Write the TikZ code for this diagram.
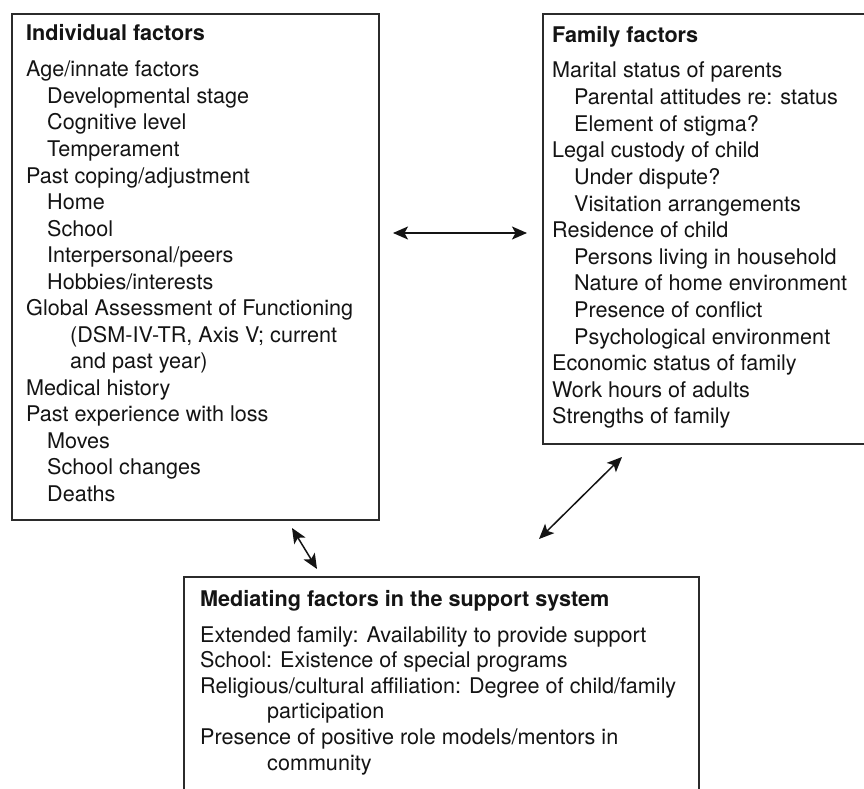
\documentclass[tikz,border=0pt]{standalone}
\usepackage{fontspec}
\setmainfont{TeX Gyre Heros}
\usetikzlibrary{arrows.meta}
\definecolor{ink}{HTML}{141414}
\definecolor{frame}{HTML}{2B2B2B}
\tikzset{
  factorbox/.style={draw=frame, line width=1.6pt, fill=white, inner sep=0pt, anchor=north west},
  entry/.style={anchor=base west, inner sep=0pt, text=ink, font=\fontsize{21.6}{26}\selectfont},
  heading/.style={entry, font=\fontsize{21.6}{26}\selectfont\bfseries},
  biarrow/.style={draw=ink, line width=1.5pt,
    {Stealth[length=15pt,width=13pt,inset=3.5pt]}-{Stealth[length=15pt,width=13pt,inset=3.5pt]}}
}
\begin{document}
\begin{tikzpicture}[x=1pt,y=-1pt]
\useasboundingbox (0,0) rectangle (864,789);
\clip (0,0) rectangle (864,789);
\fill[white] (0,0) rectangle (864,789);

% the three boxes
\node[factorbox, minimum width=367pt, minimum height=506pt] (indiv) at (11,13) {};
\node[factorbox, minimum width=360pt, minimum height=430pt] (family) at (542,13) {};
\node[factorbox, minimum width=515pt, minimum height=260pt] (mediate) at (183,576) {};

% individual factors
\node[heading] (indivtitle) at (26,41) {Individual factors};
\foreach \dx/\t [count=\i from 0] in {
  26/{Age/innate factors},
  47/{Developmental stage},
  47/{Cognitive level},
  47/{Temperament},
  26/{Past coping/adjustment},
  47/{Home},
  47/{School},
  47/{Interpersonal/peers},
  47/{Hobbies/interests},
  26/{Global Assessment of Functioning},
  70/{(DSM-IV-TR, Axis V; current},
  70/{and past year)},
  26/{Medical history},
  26/{Past experience with loss},
  47/{Moves},
  47/{School changes},
  47/{Deaths}}
  \node[entry] (ind\i) at (\dx,{77+26.5*\i}) {\t};

% family factors
\node[heading] (familytitle) at (552,43) {Family factors};
\foreach \dx/\t [count=\i from 0] in {
  552/{Marital status of parents},
  574/{Parental attitudes re: status},
  574/{Element of stigma?},
  552/{Legal custody of child},
  574/{Under dispute?},
  574/{Visitation arrangements},
  552/{Residence of child},
  574/{Persons living in household},
  574/{Nature of home environment},
  574/{Presence of conflict},
  574/{Psychological environment},
  552/{Economic status of family},
  552/{Work hours of adults},
  552/{Strengths of family}}
  \node[entry] (fam\i) at (\dx,{78+26.6*\i}) {\t};

% mediating factors
\node[heading] (mediatetitle) at (200,606) {Mediating factors in the support system};
\foreach \dx/\t [count=\i from 0] in {
  200/{Extended family: Availability to provide support},
  200/{School: Existence of special programs},
  200/{Religious/cultural affiliation: Degree of child/family},
  267/{participation},
  200/{Presence of positive role models/mentors in},
  267/{community}}
  \node[entry] (med\i) at (\dx,{642+25.6*\i}) {\t};

% connectors between the boxes
\coordinate (indivR) at (393,233);
\coordinate (familyL) at (527,233);
\coordinate (indivB) at (292,528);
\coordinate (mediateT) at (317,569);
\coordinate (mediateTR) at (539,539);
\coordinate (familyB) at (622,457);
\draw[biarrow] (indivR) -- (familyL);
\draw[biarrow] (indivB) -- (mediateT);
\draw[biarrow] (mediateTR) -- (familyB);
\end{tikzpicture}
\end{document}
